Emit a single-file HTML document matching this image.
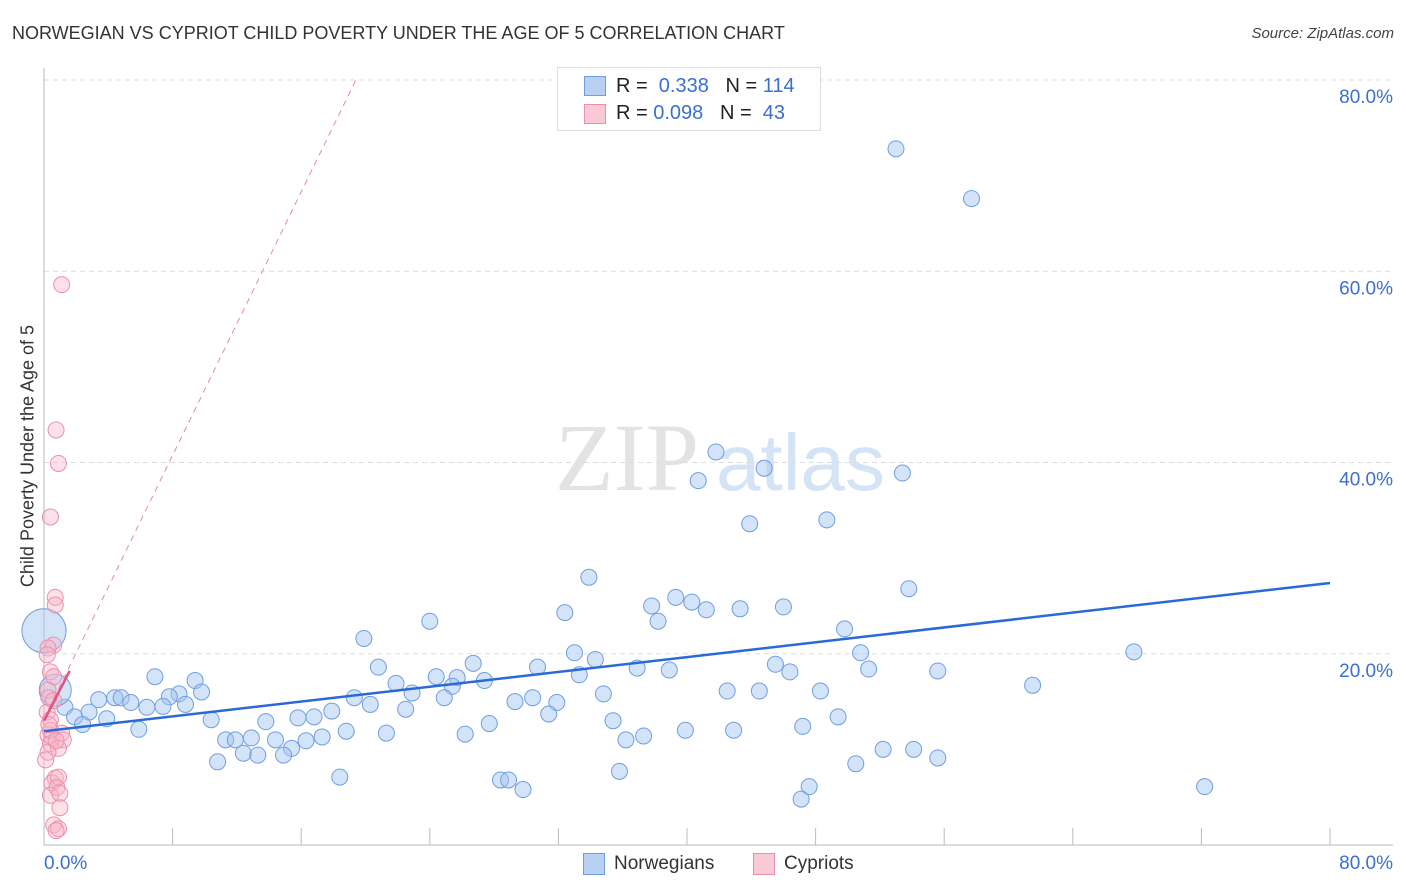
<!DOCTYPE html>
<html><head><meta charset="utf-8"><style>
body{margin:0;background:#fff;font-family:"Liberation Sans",sans-serif;}
#wrap{position:relative;width:1406px;height:892px;overflow:hidden;}
.t{position:absolute;white-space:nowrap;}
</style></head><body>
<div id="wrap">
<div class="t" style="left:12px;top:23px;font-size:18px;color:#333;">NORWEGIAN VS CYPRIOT CHILD POVERTY UNDER THE AGE OF 5 CORRELATION CHART</div>
<div class="t" style="right:12px;top:25px;font-size:15px;color:#444;font-style:italic;">Source: ZipAtlas.com</div>
<svg id="svg" width="1406" height="892" style="position:absolute;left:0;top:0"></svg>
<div class="t" style="left:28px;top:456px;transform:translate(-50%,-50%) rotate(-90deg);font-size:18px;color:#333;">Child Poverty Under the Age of 5</div>
<div style="position:absolute;left:557px;top:67px;width:262px;height:62px;border:1px solid #ddd;background:#fff;font-size:20px;">
 <div style="position:absolute;left:26px;top:8px;width:20px;height:18px;background:#b8d1f3;border:1px solid #6f9ee0;"></div>
 <div class="t" style="left:58px;top:7px;color:#222;">R = <span style="color:#3a70d0">&nbsp;0.338</span>&nbsp;&nbsp;&nbsp;N = <span style="color:#3a70d0">114</span></div>
 <div style="position:absolute;left:26px;top:36px;width:20px;height:18px;background:#f9c9d6;border:1px solid #ec8fab;"></div>
 <div class="t" style="left:58px;top:34px;color:#222;">R = <span style="color:#3a70d0">0.098</span>&nbsp;&nbsp;&nbsp;N = <span style="color:#3a70d0">&nbsp;43</span></div>
</div>
<div>
 <div style="position:absolute;left:583px;top:853px;width:20px;height:20px;background:#b8d1f3;border:1px solid #6f9ee0;"></div>
 <div class="t" style="left:614px;top:853px;font-size:19px;color:#333;">Norwegians</div>
 <div style="position:absolute;left:753px;top:853px;width:20px;height:20px;background:#f9c9d6;border:1px solid #ec8fab;"></div>
 <div class="t" style="left:784px;top:853px;font-size:19px;color:#333;">Cypriots</div>
</div>
</div>
<script>
const yTicks=[20,40,60,80];
const yTickLabels=["20.0%","40.0%","60.0%","80.0%"];
const blueX=[53.0,57.7,41.8,44.8,53.4,40.7,43.9,48.7,33.9,53.8,39.3,40.3,37.8,41.2,43.3,46.0,32.4,38.2,24.0,49.8,19.9,33.0,34.3,50.8,67.8,45.5,51.3,55.6,46.4,26.7,30.7,36.9,38.9,20.8,24.4,25.7,27.4,33.3,6.9,9.4,21.9,61.5,25.4,42.5,44.5,48.3,9.8,22.9,8.4,34.8,4.4,4.8,7.8,24.9,19.3,3.4,30.4,29.3,5.4,8.8,31.9,20.3,7.4,6.4,22.5,2.8,17.9,1.3,31.4,49.4,1.9,3.9,15.8,16.8,10.4,13.8,35.4,2.4,27.7,5.9,39.9,42.9,47.2,18.8,21.3,26.2,37.3,17.3,36.2,11.3,11.9,12.9,14.4,16.3,15.4,52.2,54.1,12.4,13.3,14.9,10.8,50.5,55.6,35.8,18.4,28.4,28.9,29.8,47.6,47.1,72.2];
const blueY=[72.8,67.6,41.1,39.4,38.9,38.1,33.6,34.0,28.0,26.8,25.9,25.4,25.0,24.6,24.7,24.9,24.3,23.4,23.4,22.6,21.6,20.1,19.4,20.1,20.2,18.9,18.4,18.2,18.1,19.0,18.6,18.5,18.3,18.6,17.6,17.5,17.2,17.8,17.6,17.2,16.9,16.7,16.6,16.1,16.1,16.1,16.0,15.9,15.8,15.8,15.4,15.4,15.5,15.4,15.4,15.2,15.4,15.0,14.9,14.7,14.9,14.7,14.5,14.4,14.2,13.9,14.0,14.4,13.7,13.4,13.4,13.2,13.3,13.4,13.1,12.9,13.0,12.6,12.7,12.1,12.0,12.0,12.4,11.9,11.7,11.6,11.4,11.3,11.0,11.0,11.0,11.2,11.0,10.9,10.1,10.0,10.0,9.6,9.4,9.4,8.7,8.5,9.1,7.7,7.1,6.8,6.8,5.8,6.1,4.8,6.1];
const bigBlueX=[0,0.7];
const bigBlueY=[22.4,16.2];
const pinkX=[1.1,0.75,0.9,0.4,0.7,0.7,0.6,0.25,0.4,0.6,0.25,0.3,0.2,0.4,0.25,0.5,1.1,1.2,0.4,0.9,0.25,0.7,0.5,0.9,0.8,0.4,0.99,0.99,0.6,0.9,0.75,0.1,0.4,0.75,0.6,0.3,0.2];
const pinkY=[58.6,43.4,39.9,34.3,25.9,25.1,20.9,20.6,18.1,17.6,16.2,15.4,13.9,13.1,11.5,11.2,11.7,11.0,10.6,10.1,9.7,7.0,6.5,7.1,6.0,5.2,5.4,3.9,2.1,1.7,1.5,8.9,12.0,10.9,15.1,12.6,19.9];
const blueTrend=[[0,11.9],[80,27.4]];
const pinkTrend=[[0,13.0],[1.6,18.2]];
const pinkDash=[[0,13.2],[19.4,80]];
const X=v=>44+v*16.075, Y=v=>845-v*9.5625;
const svg=document.getElementById('svg'),NS='http://www.w3.org/2000/svg';
function mk(t,a){const e=document.createElementNS(NS,t);for(const k in a)e.setAttribute(k,a[k]);svg.appendChild(e);return e;}
let e;
// watermark
e=mk('text',{x:555,y:490,'font-size':96,fill:'#e3e3e3','font-family':'Liberation Serif, serif'});e.textContent='ZIP';


e=mk('text',{x:716,y:490,'font-size':80,fill:'#d5e3f6','font-family':'Liberation Sans, sans-serif'});e.textContent='atlas';


yTicks.forEach((t,i)=>{
 e=mk('line',{x1:44,x2:1393,y1:Y(t),y2:Y(t),stroke:'#ddd','stroke-dasharray':'5,4'});
 
 
 e=mk('text',{x:1393,y:Y(t)+23,'text-anchor':'end','font-size':19,fill:'#3a70d0','font-family':'Liberation Sans, sans-serif'});e.textContent=yTickLabels[i];
 
 
});
e=mk('line',{x1:44,x2:44,y1:68,y2:845,stroke:'#bbb'});


e=mk('line',{x1:44,x2:1393,y1:845,y2:845,stroke:'#bbb'});


for(let i=1;i<=10;i++){e=mk('line',{x1:X(i*8),x2:X(i*8),y1:828,y2:845,stroke:'#bbb'});
 
 }
e=mk('text',{x:44,y:869,'font-size':19,fill:'#3a70d0','font-family':'Liberation Sans, sans-serif'});e.textContent='0.0%';


e=mk('text',{x:1393,y:869,'text-anchor':'end','font-size':19,fill:'#3a70d0','font-family':'Liberation Sans, sans-serif'});e.textContent='80.0%';


blueX.forEach((x,i)=>{e=mk('circle',{cx:X(x),cy:Y(blueY[i]),r:8,fill:'rgba(160,196,240,0.45)',stroke:'#6f9ee0','stroke-width':1});
 
 });
bigBlueX.forEach((x,i)=>{e=mk('circle',{cx:X(x),cy:Y(bigBlueY[i]),r:i?16:22,fill:'rgba(160,196,240,0.45)',stroke:'#6f9ee0','stroke-width':1});
 
 });
pinkX.forEach((x,i)=>{e=mk('circle',{cx:X(x),cy:Y(pinkY[i]),r:8,fill:'rgba(248,180,200,0.4)',stroke:'#ec8fab','stroke-width':1});
 
 });
e=mk('line',{x1:X(pinkDash[0][0]),y1:Y(pinkDash[0][1]),x2:X(pinkDash[1][0]),y2:Y(pinkDash[1][1]),stroke:'#e48aa6','stroke-dasharray':'6,5','stroke-width':1});


e=mk('line',{x1:X(blueTrend[0][0]),y1:Y(blueTrend[0][1]),x2:X(blueTrend[1][0]),y2:Y(blueTrend[1][1]),stroke:'#2a6ad6','stroke-width':2.5});


e=mk('line',{x1:X(pinkTrend[0][0]),y1:Y(pinkTrend[0][1]),x2:X(pinkTrend[1][0]),y2:Y(pinkTrend[1][1]),stroke:'#dd5580','stroke-width':2.5});


</script>
</body></html>
